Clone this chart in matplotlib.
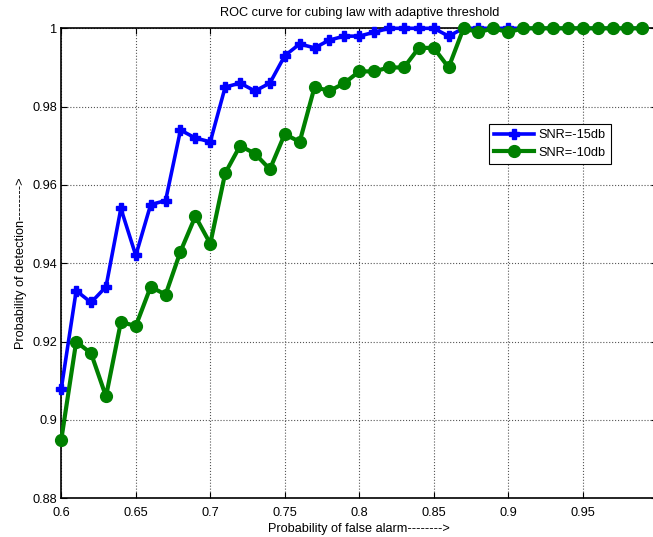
import numpy as np
import matplotlib
matplotlib.use('Agg')
import matplotlib.pyplot as plt

plt.rcParams['font.family'] = ['Liberation Sans', 'DejaVu Sans']

# false alarm probabilities 0.60 .. 0.99
pfa = [0.60, 0.61, 0.62, 0.63, 0.64, 0.65, 0.66, 0.67, 0.68, 0.69,
       0.70, 0.71, 0.72, 0.73, 0.74, 0.75, 0.76, 0.77, 0.78, 0.79,
       0.80, 0.81, 0.82, 0.83, 0.84, 0.85, 0.86, 0.87, 0.88, 0.89,
       0.90, 0.91, 0.92, 0.93, 0.94, 0.95, 0.96, 0.97, 0.98, 0.99]

pd_15db = [0.908, 0.933, 0.930, 0.934, 0.954, 0.942, 0.955, 0.956, 0.974, 0.972,
           0.971, 0.985, 0.986, 0.984, 0.986, 0.993, 0.996, 0.995, 0.997, 0.998,
           0.998, 0.999, 1.000, 1.000, 1.000, 1.000, 0.998, 1.000, 1.000, 1.000,
           1.000, 1.000, 1.000, 1.000, 1.000, 1.000, 1.000, 1.000, 1.000, 1.000]

pd_10db = [0.895, 0.920, 0.917, 0.906, 0.925, 0.924, 0.934, 0.932, 0.943, 0.952,
           0.945, 0.963, 0.970, 0.968, 0.964, 0.973, 0.971, 0.985, 0.984, 0.986,
           0.989, 0.989, 0.990, 0.990, 0.995, 0.995, 0.990, 1.000, 0.999, 1.000,
           0.999, 1.000, 1.000, 1.000, 1.000, 1.000, 1.000, 1.000, 1.000, 1.000]

xticks = [0.6, 0.65, 0.7, 0.75, 0.8, 0.85, 0.9, 0.95]
xtick_labels = ['0.6', '0.65', '0.7', '0.75', '0.8', '0.85', '0.9', '0.95']
yticks = [0.88, 0.9, 0.92, 0.94, 0.96, 0.98, 1.0]
ytick_labels = ['0.88', '0.9', '0.92', '0.94', '0.96', '0.98', '1']

FS = 9.2

fig = plt.figure(figsize=(6.53, 5.37), dpi=100)
ax = fig.add_axes([61.3/653, 1-498.3/537, (657.2-61.3)/653, 470/537])

ax.plot(pfa, pd_15db, color='#0000ff', lw=2.6, marker='P', ms=7,
        mec='#0000ff', mfc='#0000ff', label='SNR=-15db', clip_on=False, zorder=3)
ax.plot(pfa, pd_10db, color='#008000', lw=3, marker='o', ms=8.5,
        mec='#008000', mfc='#008000', label='SNR=-10db', clip_on=False, zorder=4)

ax.set_xlim(0.6, 1.0)
ax.set_ylim(0.88, 1.0)
ax.set_xticks(xticks)
ax.set_xticklabels(xtick_labels)
ax.set_yticks(yticks)
ax.set_yticklabels(ytick_labels)
ax.tick_params(direction='in', labelsize=FS, length=4, top=True, right=True, width=0.8)
ax.tick_params(axis='x', pad=6)
ax.tick_params(axis='y', pad=3)
ax.grid(True, linestyle=':', color='#555555', lw=0.8)
for s in ax.spines.values():
    s.set_linewidth(1.2)

ax.set_title('ROC curve for cubing law with adaptive threshold', fontsize=FS, pad=9)
ax.set_xlabel('Probability of false alarm-------->', fontsize=FS, labelpad=3)
ax.set_ylabel('Probability of detection-------->', fontsize=FS, labelpad=4)

leg = ax.legend(loc='upper left', bbox_to_anchor=(0.718, 0.7957), fontsize=FS,
                fancybox=False, framealpha=1, edgecolor='black', borderaxespad=0,
                handlelength=3.1, handletextpad=0.35, borderpad=0.4, labelspacing=0.4)
leg.get_frame().set_linewidth(0.8)

fig.savefig('out.png', dpi=100)
